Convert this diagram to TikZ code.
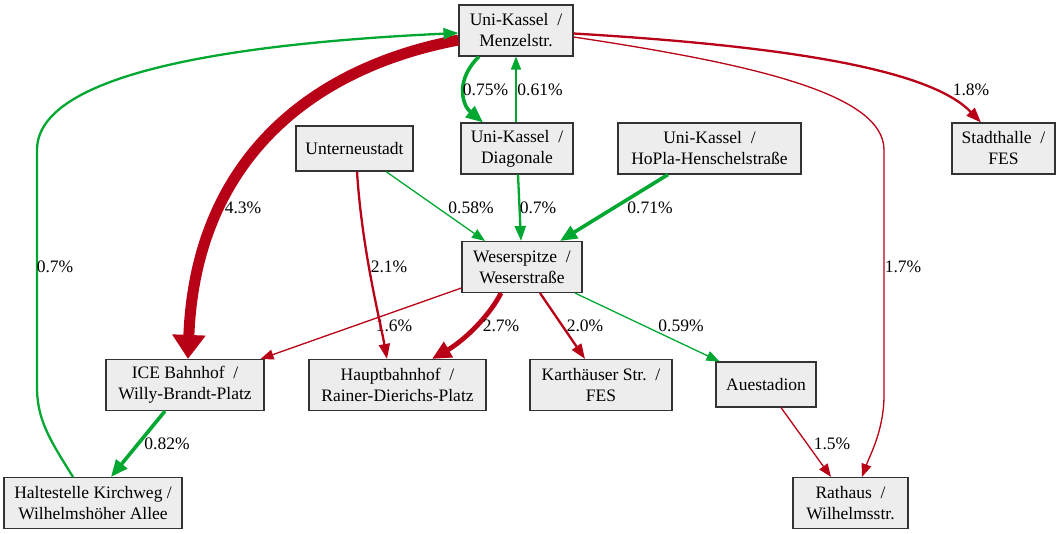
\documentclass[tikz,border=0pt]{standalone}
\usepackage{fontspec}
\setmainfont{Liberation Serif}
\usetikzlibrary{arrows.meta}
\definecolor{flowred}{RGB}{184,0,22}
\definecolor{flowgreen}{RGB}{0,168,50}
\definecolor{boxgray}{RGB}{237,237,237}

\begin{document}
\begin{tikzpicture}[x=1pt,y=-1pt,
  station/.style={draw=black!80,line width=1.1pt,fill=boxgray,align=center,
    inner sep=0pt,minimum height=51pt,font=\rmfamily\fontsize{17.5}{21}\selectfont},
  pct/.style={font=\rmfamily\fontsize{17.5}{21}\selectfont,inner sep=0pt},
  redflow/.style={draw=flowred},
  greenflow/.style={draw=flowgreen},
  flowthin/.style={line width=1.3pt,-{Triangle[length=13pt,width=10pt]}},
  flowmid/.style={line width=2.3pt,-{Triangle[length=15pt,width=11pt]}},
  flowbold/.style={line width=3.6pt,-{Triangle[length=17pt,width=14pt]}},
  flowheavy/.style={line width=4.8pt,-{Triangle[length=19pt,width=17pt]}},
  flowhuge/.style={line width=11pt,-{Triangle[length=24pt,width=32pt]}}]

  \useasboundingbox (0,0) rectangle (1061,534);

  % Stations
  \node[station,minimum width=114pt] (menzel) at (516,30.5) {Uni-Kassel\ \ /\\Menzelstr.};
  \node[station,minimum width=112pt] (diagonale) at (517,148.5) {Uni-Kassel\ \ /\\Diagonale};
  \node[station,minimum width=117pt,minimum height=45pt] (unterneustadt) at (354.5,148.5) {Unterneustadt};
  \node[station,minimum width=183pt] (hopla) at (709.5,148.5) {Uni-Kassel\ \ /\\HoPla-Henschelstraße};
  \node[station,minimum width=103pt] (stadthalle) at (1003.5,148.5) {Stadthalle\ \ /\\FES};
  \node[station,minimum width=120pt] (weser) at (522,267) {Weserspitze\ \ /\\Weserstraße};
  \node[station,minimum width=158pt] (ice) at (185,385) {ICE Bahnhof\ \ /\\Willy-Brandt-Platz};
  \node[station,minimum width=177pt] (hbf) at (397.5,385) {Hauptbahnhof\ \ /\\Rainer-Dierichs-Platz};
  \node[station,minimum width=142pt] (karth) at (601,385) {Karthäuser Str.\ \ /\\FES};
  \node[station,minimum width=100pt,minimum height=45pt] (auestadion) at (766,384.5) {Auestadion};
  \node[station,minimum width=178pt] (kirchweg) at (93,503) {Haltestelle Kirchweg /\\Wilhelmshöher Allee};
  \node[station,minimum width=115pt] (rathaus) at (850.5,503) {Rathaus\ \ /\\Wilhelmsstr.};

  % Flows out of Menzelstr.
  \draw[redflow,flowhuge] ([yshift=-9.5pt]menzel.west) .. controls (300,70) and (195,170) .. ([xshift=3pt]ice.north)
    node[pct] at (243,208) {4.3\%};
  \draw[greenflow,flowbold] ([xshift=-37pt]menzel.south) .. controls (455,80) and (462,105) .. ([xshift=-34pt]diagonale.north)
    node[pct] at (485.5,90) {0.75\%};
  \draw[redflow,flowmid] ([yshift=-3pt]menzel.east) .. controls (820,48) and (935,75) .. ([xshift=-22.5pt]stadthalle.north)
    node[pct] at (971,90) {1.8\%};
  \draw[redflow,flowthin] ([yshift=-6.5pt]menzel.east) .. controls (760,65) and (884,95) .. (884,150) -- (884,395)
    .. controls (884,430) and (870,455) .. ([xshift=11.5pt]rathaus.north)
    node[pct] at (903,267) {1.7\%};

  % Flows into Menzelstr.
  \draw[greenflow,flowthin] ([xshift=-1pt]diagonale.north) -- (menzel.south)
    node[pct] at (540,90) {0.61\%};
  \draw[greenflow,flowmid] ([xshift=-20pt]kirchweg.north) .. controls (50,440) and (37,420) .. (37,387) -- (37,150)
    .. controls (37,80) and (200,45) .. ([yshift=-2.5pt]menzel.west)
    node[pct] at (55,267) {0.7\%};

  % Flows into Weserspitze
  \draw[greenflow,flowmid] ([xshift=1pt]diagonale.south) -- ([xshift=-1pt]weser.north)
    node[pct] at (538,208) {0.7\%};
  \draw[greenflow,flowthin] ([xshift=31.5pt]unterneustadt.south) -- ([xshift=-37pt]weser.north)
    node[pct] at (471,208) {0.58\%};
  \draw[greenflow,flowbold] ([xshift=-41.5pt]hopla.south) -- ([xshift=38pt]weser.north)
    node[pct] at (650,208) {0.71\%};

  % Flows out of Weserspitze
  \draw[redflow,flowthin] ([yshift=-21pt]weser.west) -- ([xshift=-4pt]ice.north east)
    node[pct] at (394,326) {1.6\%};
  \draw[redflow,flowheavy] ([xshift=-21pt]weser.south) .. controls (490,315) and (465,340) .. ([xshift=34.5pt]hbf.north)
    node[pct] at (501,326) {2.7\%};
  \draw[redflow,flowmid] ([xshift=18pt]weser.south) -- ([xshift=-16pt]karth.north)
    node[pct] at (585,326) {2.0\%};
  \draw[greenflow,flowthin] ([xshift=53pt]weser.south) -- ([xshift=4pt]auestadion.north west)
    node[pct] at (681,326) {0.59\%};

  % Other flows
  \draw[redflow,flowmid] ([xshift=2.5pt]unterneustadt.south) .. controls (362,250) and (380,320) .. ([xshift=-10.5pt]hbf.north)
    node[pct] at (389,267) {2.1\%};
  \draw[greenflow,flowbold] ([xshift=-20pt]ice.south) -- ([xshift=18pt]kirchweg.north)
    node[pct] at (167,444) {0.82\%};
  \draw[redflow,flowthin] ([xshift=15pt]auestadion.south) -- ([xshift=-19.5pt]rathaus.north)
    node[pct] at (832,444) {1.5\%};

\end{tikzpicture}
\end{document}
